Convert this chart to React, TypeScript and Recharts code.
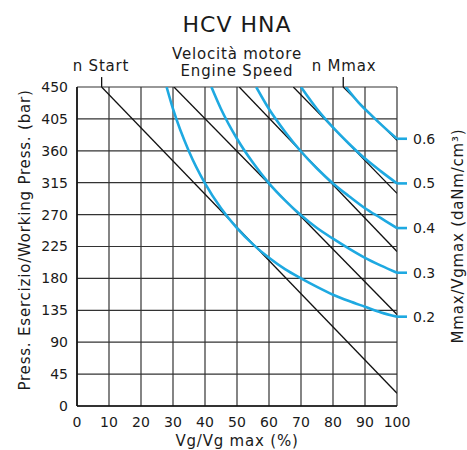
import React from 'react';
import { LineChart, Line, XAxis, YAxis, CartesianGrid, ReferenceLine } from 'recharts';

// Axis ticks
const xTicks = [0, 10, 20, 30, 40, 50, 60, 70, 80, 90, 100];
const yTicks = [0, 45, 90, 135, 180, 225, 270, 315, 360, 405, 450];

// Constant Mmax/Vgmax curves: displacement Vg/Vgmax (%) vs working pressure (bar)
const torque02 = [
  { vg: 28, p: 450 }, { vg: 30, p: 419 }, { vg: 35, p: 359 }, { vg: 40, p: 314 },
  { vg: 45, p: 279 }, { vg: 50, p: 251 }, { vg: 55, p: 228 }, { vg: 60, p: 209 },
  { vg: 65, p: 193 }, { vg: 70, p: 180 }, { vg: 75, p: 168 }, { vg: 80, p: 157 },
  { vg: 85, p: 148 }, { vg: 90, p: 140 }, { vg: 95, p: 132 }, { vg: 100, p: 126 },
];
const torque03 = [
  { vg: 42, p: 450 }, { vg: 45, p: 419 }, { vg: 50, p: 377 }, { vg: 55, p: 343 },
  { vg: 60, p: 314 }, { vg: 65, p: 290 }, { vg: 70, p: 269 }, { vg: 75, p: 251 },
  { vg: 80, p: 236 }, { vg: 85, p: 222 }, { vg: 90, p: 209 }, { vg: 95, p: 198 },
  { vg: 100, p: 188 },
];
const torque04 = [
  { vg: 56, p: 450 }, { vg: 60, p: 419 }, { vg: 65, p: 387 }, { vg: 70, p: 359 },
  { vg: 75, p: 335 }, { vg: 80, p: 314 }, { vg: 85, p: 296 }, { vg: 90, p: 279 },
  { vg: 95, p: 265 }, { vg: 100, p: 251 },
];
const torque05 = [
  { vg: 70, p: 450 }, { vg: 75, p: 419 }, { vg: 80, p: 393 }, { vg: 85, p: 370 },
  { vg: 90, p: 349 }, { vg: 95, p: 331 }, { vg: 100, p: 314 },
];
const torque06 = [
  { vg: 84, p: 450 }, { vg: 88, p: 428 }, { vg: 92, p: 410 }, { vg: 96, p: 393 },
  { vg: 100, p: 377 },
];
const torqueCurves = [torque02, torque03, torque04, torque05, torque06];
const torqueLabels = ['0.2', '0.3', '0.4', '0.5', '0.6'];

// Engine speed lines (straight)
const speedStart = [{ vg: 7.7, p: 450 }, { vg: 100, p: 18 }];
const speed2 = [{ vg: 30.3, p: 450 }, { vg: 100, p: 129 }];
const speed3 = [{ vg: 50.7, p: 450 }, { vg: 100, p: 218 }];
const speed4 = [{ vg: 67.6, p: 450 }, { vg: 100, p: 300 }];
const speedMmax = [{ vg: 83.2, p: 450 }, { vg: 100, p: 375 }];
const speedLines = [speedStart, speed2, speed3, speed4, speedMmax];

// Speed markers above the plot
const nStartVg = 7.7;
const nMmaxVg = 83.2;

const BLUE = '#1ea9e1';
const FONT = '"DejaVu Sans", Verdana, sans-serif';

// Right axis ticks sit at the end pressure of each torque curve
const rightTicks = torqueCurves.map((c) => c[c.length - 1].p);
const rightLabel = (v: number) => {
  const i = rightTicks.indexOf(v);
  return i >= 0 ? torqueLabels[i] : '';
};

export default function App() {
  const W = 467;
  const H = 450;
  return (
    <div style={{ position: 'absolute', left: 0, top: 0, width: W, height: H, background: '#fff' }}>
      <LineChart width={W} height={H} margin={{ top: 87, right: 0, bottom: 0, left: 0 }}>
        <CartesianGrid stroke="#333" strokeWidth={1.2} />
        <XAxis
          type="number"
          dataKey="vg"
          domain={[0, 100]}
          ticks={xTicks}
          allowDataOverflow
          height={44}
          tickLine={false}
          tickSize={6}
          tickMargin={5}
          axisLine={{ stroke: '#111', strokeWidth: 1.6 }}
          tick={{ fill: '#1a1a1a', fontSize: 14, fontFamily: FONT }}
        />
        <YAxis
          type="number"
          dataKey="p"
          domain={[0, 450]}
          ticks={yTicks}
          allowDataOverflow
          width={77}
          tickLine={false}
          tickSize={6}
          tickMargin={3}
          axisLine={{ stroke: '#111', strokeWidth: 1.6 }}
          tick={{ fill: '#1a1a1a', fontSize: 14, fontFamily: FONT }}
        />
        <YAxis
          yAxisId="torque"
          orientation="right"
          type="number"
          dataKey="p"
          domain={[0, 450]}
          allowDataOverflow
          ticks={rightTicks}
          interval={0}
          width={70}
          axisLine={false}
          tickSize={10}
          tickMargin={6}
          tickLine={{ stroke: BLUE, strokeWidth: 2.6 }}
          tickFormatter={rightLabel}
          tick={{ fill: '#1a1a1a', fontSize: 14, fontFamily: FONT }}
        />
        {speedLines.map((d, i) => (
          <Line
            key={'s' + i}
            data={d}
            dataKey="p"
            type="linear"
            stroke="#111"
            strokeWidth={1.3}
            dot={false}
            isAnimationActive={false}
          />
        ))}
        {torqueCurves.map((d, i) => (
          <Line
            key={'t' + i}
            yAxisId="torque"
            data={d}
            dataKey="p"
            type="monotone"
            stroke={BLUE}
            strokeWidth={2.6}
            dot={false}
            isAnimationActive={false}
          />
        ))}
        <ReferenceLine
          segment={[{ x: nStartVg, y: 450 }, { x: nStartVg, y: 464 }]}
          stroke="#111"
          strokeWidth={1.3}
          ifOverflow="visible"
        />
        <ReferenceLine
          segment={[{ x: nMmaxVg, y: 450 }, { x: nMmaxVg, y: 464 }]}
          stroke="#111"
          strokeWidth={1.3}
          ifOverflow="visible"
        />
      </LineChart>
      <svg
        width={W}
        height={H}
        style={{ position: 'absolute', left: 0, top: 0, pointerEvents: 'none' }}
        fontFamily={FONT}
        fill="#1a1a1a"
      >
        <text x={237} y={32} fontSize={22} letterSpacing={1} textAnchor="middle">HCV HNA</text>
        <text x={237} y={59} fontSize={15} letterSpacing={0.8} textAnchor="middle">Velocità motore</text>
        <text x={237} y={76} fontSize={15} letterSpacing={0.8} textAnchor="middle">Engine Speed</text>
        <text x={101} y={71} fontSize={15} letterSpacing={0.8} textAnchor="middle">n Start</text>
        <text x={344} y={71} fontSize={15} letterSpacing={0.8} textAnchor="middle">n Mmax</text>
        <text x={237} y={446} fontSize={15} letterSpacing={0.8} textAnchor="middle">Vg/Vg max (%)</text>
        <text
          x={0}
          y={0}
          fontSize={15}
          letterSpacing={0.8}
          textAnchor="middle"
          dominantBaseline="central"
          transform="translate(25 240) rotate(-90)"
        >
          Press. Esercizio/Working Press. (bar)
        </text>
        <text
          x={0}
          y={0}
          fontSize={15}
          letterSpacing={0.8}
          textAnchor="middle"
          dominantBaseline="central"
          transform="translate(458 236) rotate(-90)"
        >
          Mmax/Vgmax (daNm/cm³)
        </text>
      </svg>
    </div>
  );
}
